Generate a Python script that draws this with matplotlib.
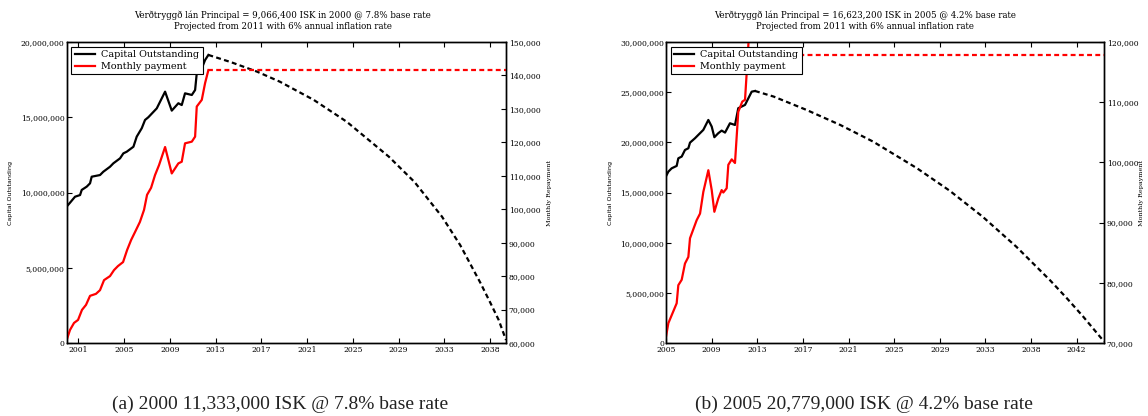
import matplotlib
matplotlib.use('Agg')
import matplotlib.pyplot as plt
from matplotlib.ticker import StrMethodFormatter
import numpy as np

# ---- loan (a): 2000, 7.8% base rate -------------------------------------
a_months = [0, 3.6, 9.1, 14.6, 16.4, 21.9, 25.5, 27.3, 36.4, 40, 47.3, 51, 58.3,
            61.9, 65.6, 72.9, 76.5, 82, 85.6, 89.2, 98.4, 107.5, 114.8, 122,
            125.7, 129.3, 136.7, 140.3, 142.1, 147.6, 151.2, 154.8]
a_capital = [9.066, 9.32, 9.72, 9.83, 10.17, 10.39, 10.61, 11.05, 11.16, 11.38,
             11.71, 11.94, 12.27, 12.60, 12.71, 13.04, 13.71, 14.27, 14.82, 15.0,
             15.59, 16.70, 15.44, 15.93, 15.81, 16.59, 16.48, 16.81, 17.92,
             18.25, 18.80, 19.14]  # million ISK
a_pay_months = [0, 3.6, 8, 12.4, 16.7, 21.1, 25.5, 32, 36.4, 40.8, 47.3, 51.7,
                56, 61.6, 66, 70.4, 74.7, 80, 84.5, 87.8, 92.2, 96.5, 100.9,
                107.5, 114.8, 122, 125.7, 129.3, 136.7, 140.3, 142.1, 147.6,
                151.2, 154.8]
a_payment = [60.9, 63.9, 66.0, 66.9, 69.9, 71.4, 74.1, 74.7, 75.8, 78.8, 80.0,
             81.8, 83.0, 84.2, 87.8, 90.8, 93.2, 96.2, 99.8, 104.3, 106.4, 110.2,
             113.2, 118.6, 110.7, 113.7, 114.2, 119.7, 120.2, 121.7, 130.7,
             132.7, 137.7, 141.6]  # thousand ISK
a_proj_months = [154.8, 180, 208, 233, 270, 306, 352, 380, 410, 430, 452, 463,
                 472, 480]
a_proj_capital = [19.14, 18.65, 18.03, 17.36, 16.15, 14.70, 12.38, 10.7, 8.4,
                  6.5, 4.0, 2.66, 1.53, 0.2]
a_proj_pay_months = [154.8, 480]
a_proj_payment = [141.6, 141.6]
a_year_labels = ['2001', '2005', '2009', '2013', '2017', '2021', '2025', '2029',
                 '2033', '2038']

# ---- loan (b): 2005, 4.2% base rate -------------------------------------
b_months = [0, 2.6, 6.2, 11.7, 13.5, 17.2, 20.8, 24.5, 26.3, 31.8, 35.4, 40.9,
            46.4, 50.1, 53, 57.3, 61, 64.7, 70.1, 75.6, 79.2, 86.6, 93.9, 97.5]
b_capital = [16.62, 17.08, 17.41, 17.65, 18.41, 18.58, 19.24, 19.41, 19.97,
             20.41, 20.74, 21.24, 22.23, 21.57, 20.51, 20.91, 21.17, 20.97,
             21.90, 21.73, 23.40, 23.73, 25.05, 25.12]
b_pay_months = [0, 2.6, 11.7, 13.5, 17.2, 20.8, 24.5, 26.3, 33.6, 37.3, 40.9,
                46.4, 50.1, 53, 57.3, 61, 62.8, 66.5, 68.3, 72, 75.6, 79.2, 83.6,
                86.6, 88.4, 92]
b_payment = [71.05, 73.3, 76.6, 79.6, 80.5, 83.2, 84.3, 87.4, 90.4, 91.5, 95.1,
             98.7, 95.4, 91.8, 94.0, 95.4, 95.0, 95.7, 99.6, 100.5, 99.9, 108.4,
             110.1, 110.4, 114.8, 124.0]
b_proj_months = [97.5, 118, 154, 191, 227, 275, 311, 347, 384, 421, 439, 457,
                 480]
b_proj_capital = [25.12, 24.56, 23.23, 21.73, 20.07, 17.42, 15.17, 12.59, 9.59,
                  6.24, 4.49, 2.65, 0.15]
b_proj_pay_months = [92, 480]
b_proj_payment = [117.8, 117.8]
b_year_labels = ['2005', '2009', '2013', '2017', '2021', '2025', '2029', '2033',
                 '2038', '2042']

titles = ["Verðtryggð lán Principal = 9,066,400 ISK in 2000 @ 7.8% base rate\n"
          "Projected from 2011 with 6% annual inflation rate",
          "Verðtryggð lán Principal = 16,623,200 ISK in 2005 @ 4.2% base rate\n"
          "Projected from 2011 with 6% annual inflation rate"]
captions = ["(a) 2000 11,333,000 ISK @ 7.8% base rate",
            "(b) 2005 20,779,000 ISK @ 4.2% base rate"]

SERIF = 'DejaVu Serif'
W, H = 1148, 416
fig = plt.figure(figsize=(W / 100, H / 100), dpi=100)


def panel(left_px, right_px, months, cap, pay_m, pay, pm, pcap, ppm, ppay,
          first_tick, labels, cap_max, pay_lim, pay_step, title, title_x,
          caption, caption_x, lab_l, lab_r):
    ax = fig.add_axes([left_px / W, 73 / H, (right_px - left_px) / W, 301 / H])
    ax2 = ax.twinx()
    dash = (2.2, 1.5)
    l1, = ax.plot(months, np.array(cap) * 1e6, color='black', lw=1.6)
    ax.plot(pm, np.array(pcap) * 1e6, color='black', lw=1.6, dashes=dash)
    l2, = ax2.plot(pay_m, np.array(pay) * 1e3, color='red', lw=1.6)
    ax2.plot(ppm, np.array(ppay) * 1e3, color='red', lw=1.6, dashes=dash)

    ax.set_xlim(0, 480)
    ax.set_ylim(0, cap_max)
    ax.set_yticks(np.arange(0, cap_max + 1, 5e6))
    ax2.set_ylim(*pay_lim)
    ax2.set_yticks(np.arange(pay_lim[0], pay_lim[1] + 1, pay_step))
    ax.set_xticks(np.arange(first_tick, 480, 50))
    ax.set_xticklabels(labels)
    ax.yaxis.set_major_formatter(StrMethodFormatter('{x:,.0f}'))
    ax2.yaxis.set_major_formatter(StrMethodFormatter('{x:,.0f}'))

    for a in (ax, ax2):
        a.tick_params(direction='in', length=3.5, width=0.8, labelsize=5.5, pad=1.5)
        for t in a.get_xticklabels() + a.get_yticklabels():
            t.set_family(SERIF)
        for s in a.spines.values():
            s.set_linewidth(1.0)
    ax.tick_params(axis='x', top=True, pad=2)
    ax2.tick_params(axis='y', pad=2)

    ax.set_ylabel('Capital Outstanding', fontsize=4.6, family='DejaVu Sans')
    ax.yaxis.set_label_coords(lab_l, 0.5)
    ax2.set_ylabel('Monthly Repayment', fontsize=4.6, family=SERIF)
    ax2.yaxis.set_label_coords(lab_r, 0.5)

    leg = ax2.legend([l1, l2], ['Capital Outstanding', 'Monthly payment'],
                     loc='upper left', fancybox=False, framealpha=1,
                     edgecolor='black', borderaxespad=0.5, handlelength=2.1,
                     handletextpad=0.65, borderpad=0.35, labelspacing=0.3,
                     prop={'family': SERIF, 'size': 6.9})
    leg.get_frame().set_linewidth(0.8)

    fig.text(title_x / W, 1 - 20.5 / H, title, ha='center', va='center',
             fontsize=6.25, family=SERIF, linespacing=1.25)
    fig.text(caption_x / W, 1 - 404 / H, caption, ha='center', va='center',
             fontsize=14, family='Liberation Serif', color='#222222')


panel(66.7, 506, a_months, a_capital, a_pay_months, a_payment, a_proj_months,
      a_proj_capital, a_proj_pay_months, a_proj_payment, 12.7, a_year_labels,
      20e6, (60000, 150000), 10000, titles[0], 283, captions[0], 280,
      -0.122, 1.094)
panel(666, 1104, b_months, b_capital, b_pay_months, b_payment, b_proj_months,
      b_proj_capital, b_proj_pay_months, b_proj_payment, 0, b_year_labels,
      30e6, (70000, 120000), 10000, titles[1], 865, captions[1], 864,
      -0.121, 1.08)

fig.savefig('out.png', dpi=100)
